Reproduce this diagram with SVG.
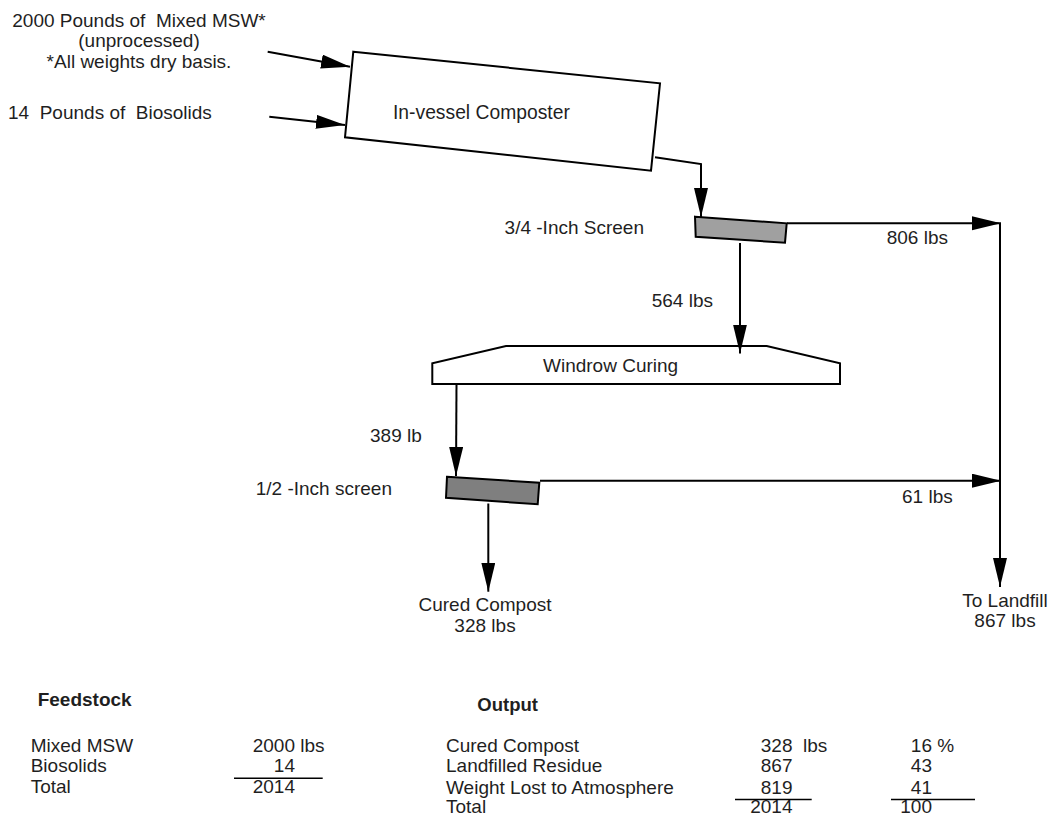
<svg xmlns="http://www.w3.org/2000/svg" width="1051" height="818" viewBox="0 0 1051 818">
<style>
text{font-family:"Liberation Sans",Arial,sans-serif;font-size:19px;fill:#1f1f1f;white-space:pre}
.b{font-weight:bold;font-size:18.5px}
.m{text-anchor:middle}
.e{text-anchor:end}
.box{fill:#fff;stroke:#000;stroke-width:2;stroke-linejoin:miter}
.scr1{fill:#a0a0a0;stroke:#000;stroke-width:2}
.scr2{fill:#7f7f7f;stroke:#000;stroke-width:2}
.ln{fill:none;stroke:#000;stroke-width:2}
.ul{stroke:#000;stroke-width:1.6}
</style>
<defs>
<marker id="ah" markerUnits="userSpaceOnUse" markerWidth="30" markerHeight="15" refX="29" refY="7" orient="auto" viewBox="0 0 30 15">
<path d="M0,0 L29,7 L0,14 Z" fill="#000"/>
</marker>
</defs>

<g id="inputs">
<text x="139" y="27" class="m">2000 Pounds of  Mixed MSW*</text>
<text x="139" y="47" class="m">(unprocessed)</text>
<text x="139" y="68" class="m">*All weights dry basis.</text>
<text x="8" y="119">14  Pounds of  Biosolids</text>
</g>

<g id="composter">
<polygon class="box" points="353.3,51.7 660,83.3 651,170.7 345,137.3"/>
<text x="393" y="119" style="font-size:19.3px">In-vessel Composter</text>
</g>

<g id="screen34">
<polygon class="scr1" points="695,216.7 786.7,223.3 785,242.7 695.7,236.7"/>
<text x="644" y="234" class="e">3/4 -Inch Screen</text>
</g>

<g id="windrow">
<polygon class="box" points="506,346 766.7,346 840,363.3 840,384 432.3,384 432.3,363.3"/>
<text x="543" y="372">Windrow Curing</text>
</g>

<g id="screen12">
<polygon class="scr2" points="447,476.7 539.3,482.7 537.7,504.3 446,497.7"/>
<text x="392" y="495" class="e">1/2 -Inch screen</text>
</g>

<g id="compost">
<text x="485" y="611" class="m">Cured Compost</text>
<text x="485" y="632" class="m">328 lbs</text>
</g>

<g id="landfill">
<text x="1005" y="607" class="m">To Landfill</text>
<text x="1005" y="627" class="m">867 lbs</text>
</g>

<g id="connectors">
<line class="ln" x1="267.7" y1="51.7" x2="350" y2="66.7" marker-end="url(#ah)"/>
<line class="ln" x1="269.3" y1="116.7" x2="345" y2="125" marker-end="url(#ah)"/>
<polyline class="ln" points="655,157.3 701,164 701,217" marker-end="url(#ah)"/>
<line class="ln" x1="787" y1="223.3" x2="1001" y2="223.3" marker-end="url(#ah)"/>
<line class="ln" x1="1000" y1="223.3" x2="1000" y2="587" marker-end="url(#ah)"/>
<line class="ln" x1="740" y1="243" x2="740" y2="353.5" marker-end="url(#ah)"/>
<line class="ln" x1="456.5" y1="384" x2="456" y2="476" marker-end="url(#ah)"/>
<line class="ln" x1="540" y1="480.7" x2="1001" y2="480.7" marker-end="url(#ah)"/>
<line class="ln" x1="488.3" y1="503.5" x2="488.3" y2="591.7" marker-end="url(#ah)"/>
<text x="886.7" y="244">806 lbs</text>
<text x="651.7" y="307">564 lbs</text>
<text x="370" y="442">389 lb</text>
<text x="902" y="503">61 lbs</text>
</g>

<g id="feedstock-table">
<text x="37.7" y="705.7" class="b" style="font-size:19px">Feedstock</text>
<text x="30.7" y="751.5">Mixed MSW</text>
<text x="30.7" y="772.3">Biosolids</text>
<text x="30.7" y="793.3">Total</text>
<text x="295" y="751.5" class="e">2000</text>
<text x="295" y="751.5"> lbs</text>
<text x="295" y="772.3" class="e">14</text>
<text x="295" y="793.3" class="e">2014</text>
<line class="ul" x1="234" y1="778.3" x2="322.7" y2="778.3"/>
</g>

<g id="output-table">
<text x="477.3" y="710.7" class="b">Output</text>
<text x="446" y="751.5">Cured Compost</text>
<text x="446" y="772.3">Landfilled Residue</text>
<text x="446" y="793.5">Weight Lost to Atmosphere</text>
<text x="446" y="813">Total</text>
<text x="792.5" y="751.5" class="e">328</text>
<text x="792.5" y="751.5">  lbs</text>
<text x="792.5" y="772.3" class="e">867</text>
<text x="792.5" y="793.5" class="e">819</text>
<text x="792.5" y="813" class="e">2014</text>
<line class="ul" x1="735" y1="799.5" x2="811.7" y2="799.5"/>
<text x="932" y="751.5" class="e">16</text>
<text x="932" y="751.5"> %</text>
<text x="932" y="772.3" class="e">43</text>
<text x="932" y="793.5" class="e">41</text>
<text x="932" y="813" class="e">100</text>
<line class="ul" x1="891" y1="799.5" x2="975" y2="799.5"/>
</g>
</svg>
